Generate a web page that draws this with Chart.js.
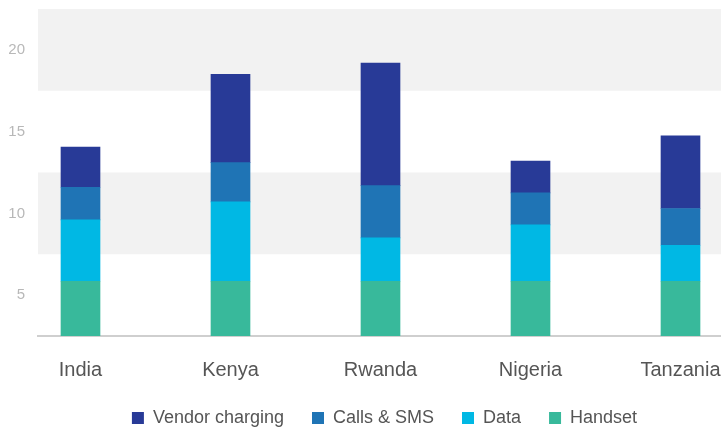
<!DOCTYPE html>
<html>
<head>
<meta charset="utf-8">
<script src="https://cdn.jsdelivr.net/npm/chart.js@4"></script>
<style>
  html, body { margin: 0; padding: 0; background: #fff; }
  #wrap { width: 721px; height: 429px; }
</style>
</head>
<body>
<div id="wrap"><canvas id="chart"></canvas></div>
<script>
// categories and stacked series (bottom to top)
const countries = ["India", "Kenya", "Rwanda", "Nigeria", "Tanzania"];
const handset = [5.85, 5.85, 5.85, 5.85, 5.85];
const data = [3.75, 4.85, 2.65, 3.45, 2.2];
const callsSms = [2.0, 2.4, 3.2, 1.95, 2.25];
const vendorCharging = [2.45, 5.4, 7.5, 1.95, 4.45];

// y axis
const yTicks = [5, 10, 15, 20];
const yMin = 2.5;
const yMax = 22.5;
const shadedBands = [[7.5, 12.5], [17.5, 22.5]];

const toPoints = (arr) => arr.map((v, i) => ({ x: i, y: v }));

// grey background bands
const bandPlugin = {
  id: "bands",
  beforeDatasetsDraw(chart) {
    const { ctx, chartArea, scales } = chart;
    ctx.save();
    ctx.fillStyle = "#f2f2f2";
    shadedBands.forEach(([lo, hi]) => {
      const top = scales.y.getPixelForValue(hi);
      const bottom = scales.y.getPixelForValue(lo);
      ctx.fillRect(chartArea.left, top, chartArea.right - chartArea.left, bottom - top);
    });
    ctx.restore();
  },
};

// nudge the legend a bit right and up, like the original
// (bottom stays put, the legend clips to its box)
const legendShift = {
  id: "legendShift",
  afterLayout(chart) {
    const lg = chart.legend;
    lg.left += 24;
    lg.right += 24;
    lg.top -= 7;
  },
};

const ctx = document.getElementById("chart").getContext("2d");
const chart = new Chart(ctx, {
  type: "bar",
  data: {
    datasets: [
      { label: "Handset", data: toPoints(handset), backgroundColor: "#38b99b" },
      { label: "Data", data: toPoints(data), backgroundColor: "#00b8e4" },
      { label: "Calls & SMS", data: toPoints(callsSms), backgroundColor: "#1f74b5" },
      { label: "Vendor charging", data: toPoints(vendorCharging), backgroundColor: "#283a97" },
    ],
  },
  options: {
    responsive: true,
    maintainAspectRatio: false,
    animation: false,
    devicePixelRatio: 1,
    layout: { padding: { top: 9, right: 0, left: 0, bottom: 0 } },
    datasets: { bar: { barThickness: 39 } },
    scales: {
      x: {
        type: "linear",
        stacked: true,
        offset: false,
        min: -0.2833,
        max: 4.27,
        grid: { display: false, drawTicks: false },
        border: { color: "#cfcfcf", width: 2 },
        afterBuildTicks: (axis) => { axis.ticks = countries.map((_, i) => ({ value: i })); },
        afterFit: (axis) => {
          axis.height = 52;
          axis.paddingLeft = 0;
          axis.paddingRight = 0;
        },
        ticks: {
          padding: 22,
          color: "#555",
          font: { family: "Liberation Sans", size: 20 },
          callback: (v) => countries[v],
          maxRotation: 0,
        },
      },
      y: {
        stacked: true,
        min: yMin,
        max: yMax,
        grid: { display: false, drawTicks: false },
        border: { display: false },
        afterBuildTicks: (axis) => { axis.ticks = yTicks.map((v) => ({ value: v })); },
        afterFit: (axis) => {
          axis.width = 38;
          axis.paddingTop = 0;
          axis.paddingBottom = 0;
        },
        ticks: {
          padding: 13,
          color: "#b8b8b8",
          font: { family: "Liberation Sans", size: 15 },
        },
      },
    },
    plugins: {
      legend: {
        position: "bottom",
        reverse: true,
        maxHeight: 41,
        labels: {
          color: "#555",
          font: { family: "Liberation Sans", size: 18 },
          boxWidth: 12,
          boxHeight: 12,
          padding: 28,
        },
      },
      tooltip: { enabled: false },
    },
  },
  plugins: [bandPlugin, legendShift],
});
</script>
</body>
</html>
